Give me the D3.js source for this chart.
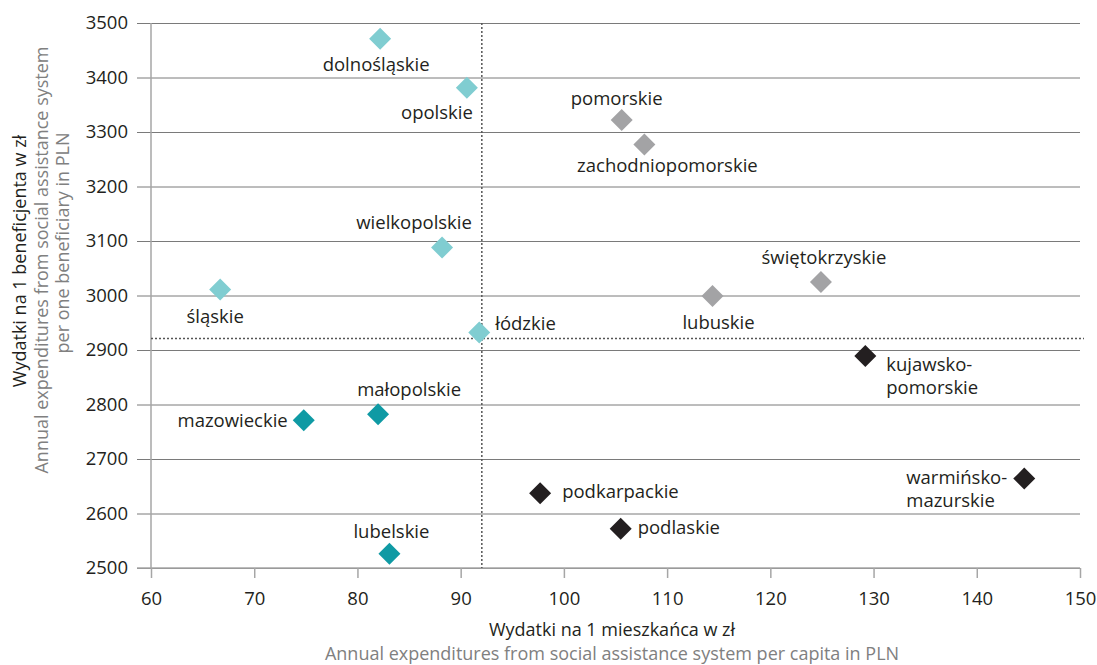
<!DOCTYPE html>
<html>
<head>
<meta charset="utf-8">
<script src="https://cdn.jsdelivr.net/npm/d3@7"></script>
<style>
  html, body { margin: 0; padding: 0; background: #ffffff; }
  svg { display: block; }
  text { font-family: "Open Sans", "Noto Sans", sans-serif; }
</style>
</head>
<body>
<svg id="chart" width="1097" height="665"></svg>
<script>
// ---- data ----
const regions = ["dolnośląskie","opolskie","pomorskie","zachodniopomorskie","wielkopolskie","śląskie","łódzkie","lubuskie","świętokrzyskie","kujawsko-pomorskie","mazowieckie","małopolskie","warmińsko-mazurskie","podkarpackie","podlaskie","lubelskie"];
const perCapita = [82.2, 90.6, 105.6, 107.8, 88.2, 66.7, 91.8, 114.4, 124.9, 129.2, 74.8, 82.0, 144.6, 97.7, 105.5, 83.1];
const perBeneficiary = [3471, 3381, 3322, 3277, 3088, 3011, 2932, 2999, 3025, 2889, 2771, 2782, 2664, 2637, 2572, 2526];
const group = ["light","light","gray","gray","light","light","light","gray","gray","dark","teal","teal","dark","dark","dark","teal"];
const xTicks = [60, 70, 80, 90, 100, 110, 120, 130, 140, 150];
const yTicks = [2500, 2600, 2700, 2800, 2900, 3000, 3100, 3200, 3300, 3400, 3500];
const meanPerCapita = 92.05;
const meanPerBeneficiary = 2921;
const xTitle = ["Wydatki na 1 mieszkańca w zł", "Annual expenditures from social assistance system per capita in PLN"];
const yTitle = ["Wydatki na 1 beneficjenta w zł", "Annual expenditures from social assistance system", "per one beneficiary in PLN"];

// ---- styles / layout ----
const colors = { light: "#80cdd1", teal: "#0f9aa4", gray: "#a3a3a5", dark: "#231f20" };
const FS = 18.5;
const TFS = 18;
// label placement: [dx, dy, anchor, lines]
const labelLayout = {
  "dolnośląskie": [-4, 32, "middle"],
  "opolskie": [6, 31, "end"],
  "pomorskie": [-5, -15, "middle"],
  "zachodniopomorskie": [23, 27, "middle"],
  "wielkopolskie": [-28, -19, "middle"],
  "śląskie": [-5, 33, "middle"],
  "łódzkie": [16, -3, "start"],
  "lubuskie": [6, 33, "middle"],
  "świętokrzyskie": [3, -18, "middle"],
  "kujawsko-pomorskie": [21, 15, "start", ["kujawsko-", "pomorskie"]],
  "mazowieckie": [-16, 7, "end"],
  "małopolskie": [31, -18, "middle"],
  "warmińsko-mazurskie": [-118, 5, "start", ["warmińsko-", "mazurskie"]],
  "podkarpackie": [22, 5, "start"],
  "podlaskie": [17, 5, "start"],
  "lubelskie": [2, -16, "middle"]
};

const svg = d3.select("#chart");
const pLeft = 151, pRight = 1080, pTop = 23, pBottom = 568, tickLeft = 137;

const x = d3.scaleLinear().domain([60, 150]).range([pLeft, pRight]);
const y = d3.scaleLinear().domain([2500, 3500]).range([pBottom, pTop]);

// horizontal gridlines + y tick labels
const yAxis = svg.append("g")
  .attr("transform", `translate(${pRight},0)`)
  .call(d3.axisLeft(y).tickValues(yTicks).tickSize(pRight - tickLeft).tickPadding(9).tickFormat(d3.format("d")));
yAxis.select(".domain").remove();
yAxis.selectAll(".tick line").attr("stroke", "#7a7a7a").attr("stroke-width", 1);
yAxis.selectAll(".tick text").attr("font-size", FS).attr("fill", "#231f20")
  .attr("font-family", "'Open Sans', sans-serif");

// x axis
const xAxis = svg.append("g")
  .attr("transform", `translate(0,${pBottom})`)
  .call(d3.axisBottom(x).tickValues(xTicks).tickSize(10).tickPadding(14).tickFormat(d3.format("d")));
xAxis.select(".domain").remove();
xAxis.selectAll(".tick line").attr("stroke", "#a6a6a6").attr("stroke-width", 1.5);
xAxis.selectAll(".tick text").attr("font-size", FS).attr("fill", "#231f20")
  .attr("font-family", "'Open Sans', sans-serif");

// bottom axis line
svg.append("line").attr("x1", tickLeft).attr("x2", pRight).attr("y1", pBottom).attr("y2", pBottom)
  .attr("stroke", "#a6a6a6").attr("stroke-width", 1.5);
// left axis line
svg.append("line").attr("x1", pLeft).attr("x2", pLeft).attr("y1", pTop).attr("y2", pBottom)
  .attr("stroke", "#a6a6a6").attr("stroke-width", 1.5);

// mean reference lines (dotted)
svg.append("line").attr("x1", x(meanPerCapita)).attr("x2", x(meanPerCapita)).attr("y1", pTop).attr("y2", pBottom)
  .attr("stroke", "#555").attr("stroke-width", 1.5).attr("stroke-dasharray", "2,2");
svg.append("line").attr("x1", pLeft).attr("x2", pRight + 4).attr("y1", y(meanPerBeneficiary)).attr("y2", y(meanPerBeneficiary))
  .attr("stroke", "#555").attr("stroke-width", 1.5).attr("stroke-dasharray", "2,2");

// points
const data = regions.map((r, i) => ({ name: r, x: perCapita[i], y: perBeneficiary[i], g: group[i] }));
const half = 11;
svg.append("g").selectAll("path").data(data).join("path")
  .attr("d", d => `M${x(d.x)},${y(d.y) - half}L${x(d.x) + half},${y(d.y)}L${x(d.x)},${y(d.y) + half}L${x(d.x) - half},${y(d.y)}Z`)
  .attr("fill", d => colors[d.g]);

// labels
const lbl = svg.append("g").attr("font-size", FS).attr("fill", "#231f20");
data.forEach(d => {
  const L = labelLayout[d.name];
  const lines = L[3] || [d.name];
  const t = lbl.append("text")
    .attr("x", x(d.x) + L[0])
    .attr("y", y(d.y) + L[1])
    .attr("text-anchor", L[2]);
  lines.forEach((s, k) => {
    t.append("tspan").attr("x", x(d.x) + L[0]).attr("dy", k === 0 ? 0 : 23).text(s);
  });
});

// x title
svg.append("text").attr("x", 612).attr("y", 636).attr("text-anchor", "middle")
  .attr("font-size", TFS).attr("fill", "#231f20").text(xTitle[0]);
svg.append("text").attr("x", 612).attr("y", 660).attr("text-anchor", "middle")
  .attr("font-size", TFS).attr("fill", "#808080").text(xTitle[1]);

// y title
const yt = [[26, 261, "#231f20"], [48, 260, "#808080"], [69, 243, "#808080"]];
yTitle.forEach((s, k) => {
  svg.append("text")
    .attr("transform", `translate(${yt[k][0]},${yt[k][1]}) rotate(-90)`)
    .attr("text-anchor", "middle").attr("font-size", TFS).attr("fill", yt[k][2]).text(s);
});
</script>
</body>
</html>
